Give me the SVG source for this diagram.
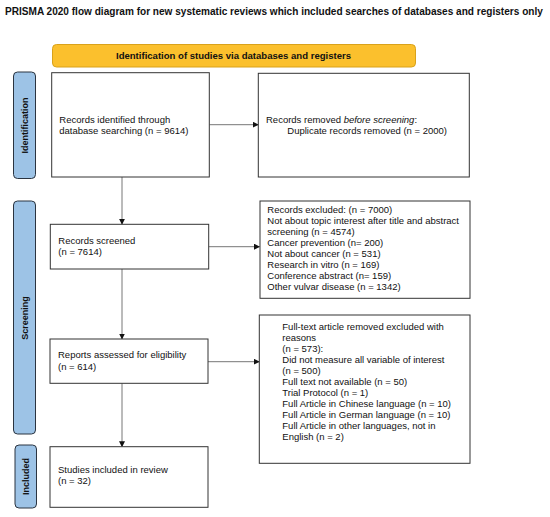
<svg xmlns="http://www.w3.org/2000/svg" width="550" height="517" viewBox="0 0 550 517">
<style>
.box{fill:#fff;stroke:#333;stroke-width:1}
.side{fill:#9DC3E6;stroke:#2b3440;stroke-width:1}
.t{font-family:"Liberation Sans",Arial,sans-serif;font-size:9.5px;fill:#111}
.sl{font-family:"Liberation Sans",Arial,sans-serif;font-size:9px;font-weight:bold;fill:#111}
.c{fill:none;stroke:#777;stroke-width:1}
</style>
<defs>
<marker id="ah" markerWidth="6" markerHeight="6" refX="5.5" refY="3" orient="auto" markerUnits="userSpaceOnUse">
<path d="M0,0 L6,3 L0,6 z" fill="#111"/>
</marker>
</defs>
<rect width="550" height="517" fill="#fff"/>
<text id="title" transform="translate(5,15) scale(0.83,1)" x="0" y="0" font-family="'Liberation Sans',Arial,sans-serif" font-size="11" font-weight="bold" fill="#111" textLength="648" lengthAdjust="spacingAndGlyphs">PRISMA 2020 flow diagram for new systematic reviews which included searches of databases and registers only</text>
<g id="banner">
<rect x="52.5" y="44.5" width="363" height="22.5" rx="4" fill="#FBC02D" stroke="#D9A21B"/>
<text x="233.5" y="58.5" text-anchor="middle" font-family="'Liberation Sans',Arial,sans-serif" font-size="9.5" font-weight="bold" fill="#111" textLength="235" lengthAdjust="spacingAndGlyphs">Identification of studies via databases and registers</text>
</g>
<g id="side-identification">
<rect class="side" x="13.5" y="72" width="22" height="106.5" rx="4"/>
<text class="sl" transform="translate(27.5,125.5) rotate(-90)" text-anchor="middle">Identification</text>
</g>
<g id="side-screening">
<rect class="side" x="13.5" y="201" width="22" height="233" rx="4"/>
<text class="sl" transform="translate(27.5,318) rotate(-90)" text-anchor="middle">Screening</text>
</g>
<g id="side-included">
<rect class="side" x="15" y="445" width="21.5" height="63" rx="4"/>
<text class="sl" transform="translate(29,476.5) rotate(-90)" text-anchor="middle">Included</text>
</g>
<g id="connectors">
<line class="c" x1="209.5" y1="124.7" x2="258.3" y2="124.7" marker-end="url(#ah)"/>
<line class="c" x1="122" y1="177" x2="122" y2="224.3" marker-end="url(#ah)"/>
<line class="c" x1="208.7" y1="246.7" x2="259.5" y2="246.7" marker-end="url(#ah)"/>
<line class="c" x1="122" y1="269" x2="122" y2="339" marker-end="url(#ah)"/>
<line class="c" x1="208" y1="361.7" x2="259.3" y2="361.7" marker-end="url(#ah)"/>
<line class="c" x1="122" y1="383.3" x2="122" y2="446.7" marker-end="url(#ah)"/>
</g>
<g id="n-identified">
<rect class="box" x="51.7" y="72.7" width="157.6" height="104.3"/>
<text class="t" x="59.3" y="122.7">Records identified through</text>
<text class="t" x="59.3" y="133.7">database searching (n = 9614)</text>
</g>
<g id="n-removed">
<rect class="box" x="258.3" y="73.3" width="211" height="103.7"/>
<text class="t" x="266" y="122.5">Records removed <tspan font-style="italic">before screening</tspan>:</text>
<text class="t" x="287.3" y="133.5">Duplicate records removed (n = 2000)</text>
</g>
<g id="n-screened">
<rect class="box" x="50.3" y="224.3" width="158.4" height="44.7"/>
<text class="t" x="58.3" y="243.5">Records screened</text>
<text class="t" x="58.3" y="255">(n = 7614)</text>
</g>
<g id="n-excluded">
<rect class="box" x="260" y="201" width="210" height="97.3"/>
<text class="t" x="267.3" y="213.3">Records excluded: (n = 7000)</text>
<text class="t" x="267.3" y="224.3">Not about topic interest after title and abstract</text>
<text class="t" x="267.3" y="235.3">screening (n = 4574)</text>
<text class="t" x="267.3" y="246.3">Cancer prevention (n= 200)</text>
<text class="t" x="267.3" y="257.3">Not about cancer (n = 531)</text>
<text class="t" x="267.3" y="268.3">Research in vitro  (n = 169)</text>
<text class="t" x="267.3" y="279.3">Conference abstract (n= 159)</text>
<text class="t" x="267.3" y="290.3">Other vulvar disease (n = 1342)</text>
</g>
<g id="n-assessed">
<rect class="box" x="50" y="339" width="158" height="44.3"/>
<text class="t" x="58" y="358.3">Reports assessed for eligibility</text>
<text class="t" x="58" y="369.5">(n = 614)</text>
</g>
<g id="n-fulltext">
<rect class="box" x="259.3" y="315" width="210.7" height="148.3"/>
<text class="t" x="282.3" y="330">Full-text article removed excluded with</text>
<text class="t" x="282.3" y="341">reasons</text>
<text class="t" x="282.3" y="352">(n = 573):</text>
<text class="t" x="282.3" y="363">Did not measure all variable of interest</text>
<text class="t" x="282.3" y="374">(n = 500)</text>
<text class="t" x="282.3" y="385">Full text not available (n = 50)</text>
<text class="t" x="282.3" y="396">Trial Protocol (n = 1)</text>
<text class="t" x="282.3" y="407">Full Article in Chinese language (n = 10)</text>
<text class="t" x="282.3" y="418">Full Article in German language (n = 10)</text>
<text class="t" x="282.3" y="429">Full Article in other languages, not in</text>
<text class="t" x="282.3" y="440">English (n = 2)</text>
</g>
<g id="n-included">
<rect class="box" x="50" y="446.7" width="158" height="60.6"/>
<text class="t" x="58" y="472.7">Studies included in review</text>
<text class="t" x="58" y="484.3">(n = 32)</text>
</g>
</svg>
